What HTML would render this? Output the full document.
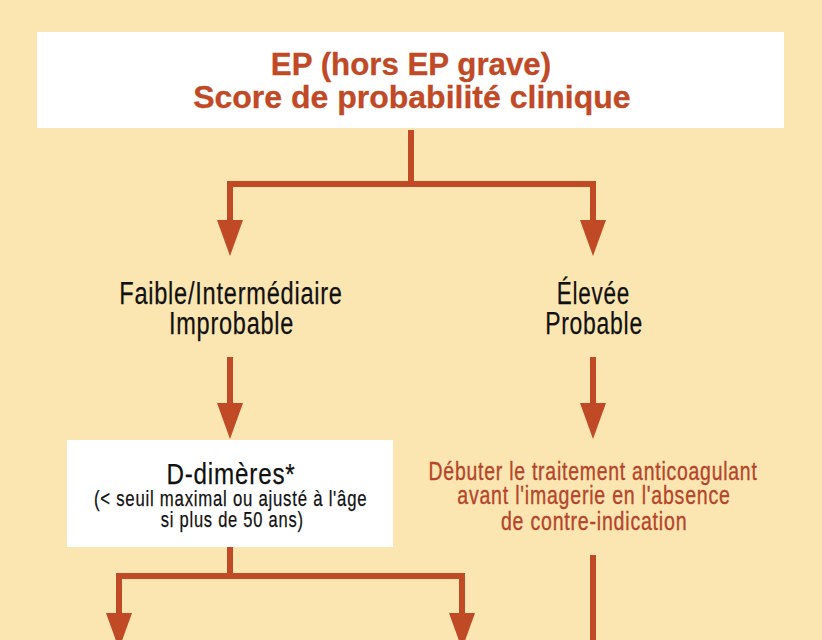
<!DOCTYPE html>
<html><head><meta charset="utf-8">
<style>
html,body{margin:0;padding:0;}
body{width:822px;height:640px;overflow:hidden;background:#fbe5b1;position:relative;font-family:"Liberation Sans",sans-serif;}
svg{position:absolute;left:0;top:0;}
.box{position:absolute;background:#fff;}
.t{position:absolute;width:700px;text-align:center;white-space:nowrap;line-height:1;}
.t span{display:inline-block;transform-origin:50% 50%;}
</style></head><body>
<div class="box" style="left:37px;top:32px;width:747px;height:96px;"></div>
<div class="box" style="left:67px;top:440px;width:326px;height:107px;"></div>
<svg width="822" height="640" viewBox="0 0 822 640">
<g fill="#c04926">
<rect x="408" y="130" width="6" height="57"/><rect x="227" y="181" width="369" height="6"/><rect x="227" y="181" width="6" height="40"/><rect x="590" y="181" width="6" height="40"/><rect x="227" y="357" width="6" height="47"/><rect x="590" y="357" width="6" height="47"/><rect x="227" y="547" width="6" height="30"/><rect x="116" y="573" width="349" height="6"/><rect x="116" y="573" width="6" height="41"/><rect x="459" y="573" width="6" height="41"/><rect x="590" y="555" width="6" height="85"/><polygon points="217,220 243,220 230,256"/><polygon points="580,220 606,220 593,256"/><polygon points="217,403 243,403 230,439"/><polygon points="580,403 606,403 593,439"/><polygon points="106,613 132,613 119,649"/><polygon points="449,613 475,613 462,649"/>
</g>
</svg>
<div class="t" style="left:60.70px;top:48.56px;font-size:31px;color:#c04926;font-weight:bold;letter-spacing:0px;-webkit-text-stroke:0.3px #c04926"><span style="transform:scaleX(1.0082)">EP (hors EP grave)</span></div>
<div class="t" style="left:61.50px;top:81.76px;font-size:31px;color:#c04926;font-weight:bold;letter-spacing:0px;-webkit-text-stroke:0.3px #c04926"><span style="transform:scaleX(1.0324)">Score de probabilité clinique</span></div>
<div class="t" style="left:-119.35px;top:277.96px;font-size:31px;color:#111;font-weight:normal;letter-spacing:1.0px;-webkit-text-stroke:0.25px #111"><span style="transform:scaleX(0.7604)">Faible/Intermédiaire</span></div>
<div class="t" style="left:-118.40px;top:308.36px;font-size:31px;color:#111;font-weight:normal;letter-spacing:1.0px;-webkit-text-stroke:0.25px #111"><span style="transform:scaleX(0.7590)">Improbable</span></div>
<div class="t" style="left:243.75px;top:277.66px;font-size:31px;color:#111;font-weight:normal;letter-spacing:1.0px;-webkit-text-stroke:0.25px #111"><span style="transform:scaleX(0.7265)">Élevée</span></div>
<div class="t" style="left:243.60px;top:307.96px;font-size:31px;color:#111;font-weight:normal;letter-spacing:1.0px;-webkit-text-stroke:0.25px #111"><span style="transform:scaleX(0.7401)">Probable</span></div>
<div class="t" style="left:-119.00px;top:459.11px;font-size:30px;color:#111;font-weight:normal;letter-spacing:1.0px;-webkit-text-stroke:0.25px #111"><span style="transform:scaleX(0.8071)">D-dimères*</span></div>
<div class="t" style="left:-119.20px;top:487.68px;font-size:22px;color:#111;font-weight:normal;letter-spacing:1.0px;-webkit-text-stroke:0.25px #111"><span style="transform:scaleX(0.7611)">(&lt; seuil maximal ou ajusté à l'âge</span></div>
<div class="t" style="left:-118.10px;top:508.58px;font-size:22px;color:#111;font-weight:normal;letter-spacing:1.0px;-webkit-text-stroke:0.25px #111"><span style="transform:scaleX(0.7504)">si plus de 50 ans)</span></div>
<div class="t" style="left:243.30px;top:458.84px;font-size:25px;color:#b5452a;font-weight:normal;letter-spacing:1.0px;-webkit-text-stroke:0.35px #b5452a"><span style="transform:scaleX(0.7757)">Débuter le traitement anticoagulant</span></div>
<div class="t" style="left:244.05px;top:482.94px;font-size:25px;color:#b5452a;font-weight:normal;letter-spacing:1.0px;-webkit-text-stroke:0.35px #b5452a"><span style="transform:scaleX(0.7814)">avant l'imagerie en l'absence</span></div>
<div class="t" style="left:243.90px;top:508.94px;font-size:25px;color:#b5452a;font-weight:normal;letter-spacing:1.0px;-webkit-text-stroke:0.35px #b5452a"><span style="transform:scaleX(0.7826)">de contre-indication</span></div>
</body></html>
